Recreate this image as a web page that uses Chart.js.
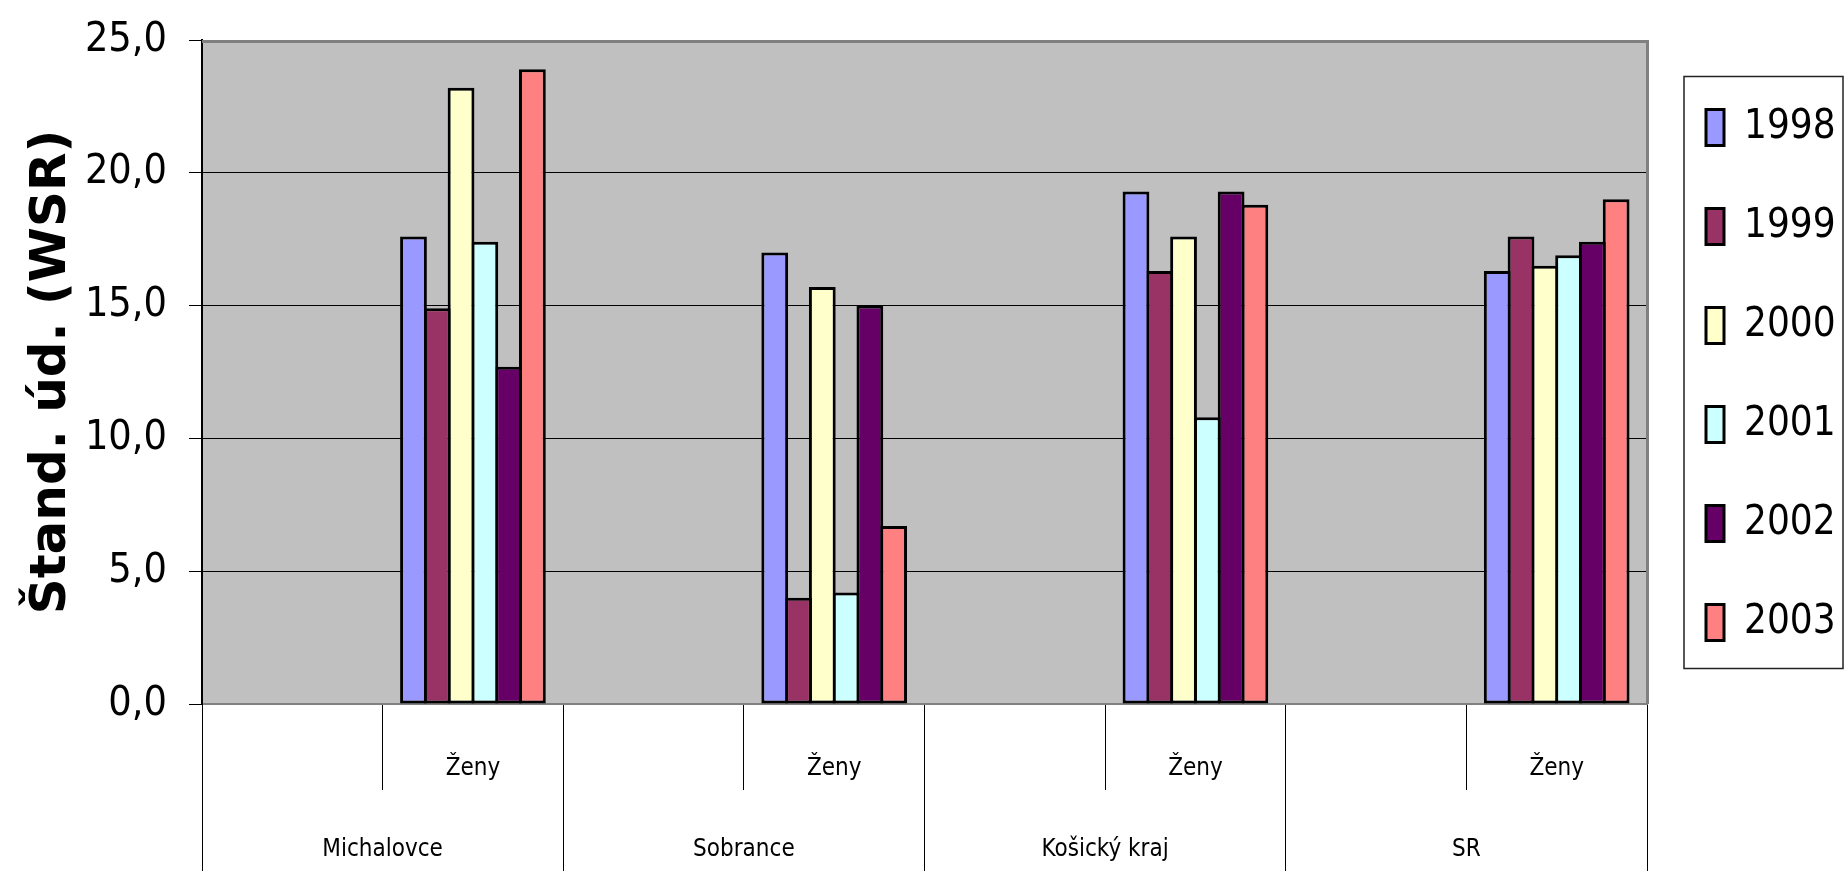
<!DOCTYPE html>
<html><head><meta charset="utf-8">
<script src="https://cdn.jsdelivr.net/npm/chart.js@4.4.1/dist/chart.umd.min.js"></script>
<style>html,body{margin:0;padding:0;background:#fff;}canvas{display:block;}</style>
</head><body>
<canvas id="c" width="1845" height="871"></canvas>
<script>
const NARROW = "'Liberation Sans Narrow', 'Arial Narrow', 'DejaVu Sans Condensed', sans-serif";

const groups = ['Michalovce', 'Sobrance', 'Košický kraj', 'SR'];
const subCategories = ['', 'Ženy'];
const seriesLabels = ['1998', '1999', '2000', '2001', '2002', '2003'];
const zeny1998 = [17.6, 17.0, 19.3, 16.3];
const zeny1999 = [14.9, 4.0, 16.3, 17.6];
const zeny2000 = [23.2, 15.7, 17.6, 16.5];
const zeny2001 = [17.4, 4.2, 10.8, 16.9];
const zeny2002 = [12.7, 15.0, 19.3, 17.4];
const zeny2003 = [23.9, 6.7, 18.8, 19.0];
const yTickValues = [0, 5, 10, 15, 20, 25];
const seriesColors = ['#9999FF', '#993366', '#FFFFCC', '#CCFFFF', '#660066', '#FF8080'];

const categories = groups.flatMap(() => subCategories);
const seriesValues = [zeny1998, zeny1999, zeny2000, zeny2001, zeny2002, zeny2003];

const datasets = seriesLabels.map((lab, k) => ({
  label: lab,
  data: seriesValues[k].flatMap(v => [null, v]),
  backgroundColor: seriesColors[k],
  borderColor: '#000',
  borderWidth: 3,
  borderSkipped: false,
  categoryPercentage: 0.79,
  barPercentage: 1.126
}));

const framePlugin = {
  id: 'frame',
  beforeDraw(chart) {
    const {ctx, chartArea: a} = chart;
    ctx.save();
    ctx.fillStyle = '#fff';
    ctx.fillRect(0, 0, chart.width, chart.height);
    ctx.fillStyle = '#C0C0C0';
    ctx.fillRect(a.left, a.top, a.right - a.left, a.bottom - a.top);
    ctx.restore();
  },
  afterDraw(chart) {
    const {ctx, chartArea: a} = chart;
    ctx.save();
    ctx.strokeStyle = '#808080';
    ctx.lineWidth = 3;
    ctx.beginPath();
    ctx.moveTo(a.left, a.top + 1.5);
    ctx.lineTo(a.right + 1.5, a.top + 1.5);
    ctx.moveTo(a.right + 0.5, a.top);
    ctx.lineTo(a.right + 0.5, a.bottom);
    ctx.stroke();
    const hb = chart.legend.legendHitBoxes;
    if (hb && hb.length) {
      const first = hb[0], last = hb[hb.length - 1];
      const x0 = first.left - 22, y0 = first.top - 31;
      const y1 = last.top + last.height + 26;
      ctx.strokeStyle = '#222';
      ctx.lineWidth = 1.5;
      ctx.strokeRect(x0, y0, chart.width - 2 - x0, y1 - y0);
    }
    ctx.restore();
  }
};

new Chart(document.getElementById('c'), {
  type: 'bar',
  data: { labels: categories, datasets },
  plugins: [framePlugin],
  options: {
    responsive: false,
    devicePixelRatio: 1,
    animation: false,
    layout: { padding: { top: 40, right: 0, bottom: 0, left: 0 } },
    plugins: {
      tooltip: { enabled: false },
      legend: {
        position: 'right',
        align: 'start',
        maxWidth: 198,
        title: { display: true, text: '', padding: 0, font: { size: 10, lineHeight: 0.85 } },
        labels: {
          color: '#000',
          font: { family: NARROW, size: 40 },
          boxWidth: 18,
          boxHeight: 36,
          padding: 59
        }
      }
    },
    scales: {
      x: {
        type: 'category',
        position: 'bottom',
        weight: 0,
        offset: true,
        grid: { offset: true, drawOnChartArea: false, drawTicks: true, tickLength: 86, color: '#000', lineWidth: 1 },
        border: { display: true, color: '#808080', width: 2 },
        ticks: { color: '#000', font: { family: NARROW, size: 24 }, padding: -36, autoSkip: false, maxRotation: 0, minRotation: 0 },
        afterFit: s => { s.height = 86; }
      },
      x2: {
        type: 'category',
        position: 'bottom',
        weight: 1,
        labels: groups,
        offset: true,
        grid: { offset: true, drawOnChartArea: false, drawTicks: true, tickLength: 81, color: '#000', lineWidth: 1 },
        border: { display: false },
        ticks: { color: '#000', font: { family: NARROW, size: 24 }, padding: -36, autoSkip: false, maxRotation: 0, minRotation: 0 },
        afterFit: s => { s.height = 81; }
      },
      y: {
        min: 0,
        max: 25,
        afterBuildTicks: s => { s.ticks = yTickValues.map(v => ({ value: v })); },
        grid: {
          color: c => (c.tick && (c.tick.value === 0 || c.tick.value === 25)) ? 'rgba(0,0,0,0)' : '#000',
          tickColor: '#000',
          lineWidth: 1,
          tickLength: 13
        },
        border: { display: true, color: '#000', width: 2 },
        ticks: {
          color: '#000',
          font: { family: NARROW, size: 41 },
          padding: 22,
          callback: v => Number(v).toFixed(1).replace('.', ',')
        },
        title: {
          display: true,
          text: 'Štand. úd. (WSR)',
          color: '#000',
          font: { family: "'DejaVu Sans', sans-serif", weight: 'bold', size: 50 },
          padding: { top: 22, bottom: 0 }
        },
        afterFit: s => { s.width = 202; s.paddingTop = 0; s.paddingBottom = 0; }
      }
    }
  }
});
</script>
</body></html>
